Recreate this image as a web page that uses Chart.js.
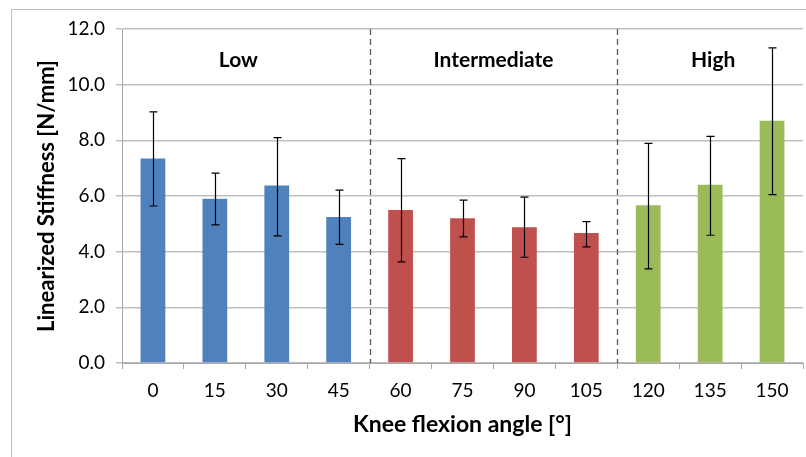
<!DOCTYPE html>
<html>
<head>
<meta charset="utf-8">
<script src="https://cdn.jsdelivr.net/npm/chart.js@4/dist/chart.umd.min.js"></script>
<style>
  html, body { margin: 0; padding: 0; background: #fff; }
  #wrap { width: 806px; height: 457px; position: relative; }
</style>
</head>
<body>
<div id="wrap"><canvas id="chart" width="806" height="457"></canvas></div>
<script>
// knee flexion angles (x categories)
const angles = ['0', '15', '30', '45', '60', '75', '90', '105', '120', '135', '150'];
// mean linearized stiffness [N/mm]
const stiffness = [7.35, 5.90, 6.38, 5.25, 5.50, 5.20, 4.88, 4.67, 5.67, 6.40, 8.70];
// error bar ends
const errHigh = [9.02, 6.82, 8.10, 6.21, 7.34, 5.85, 5.96, 5.08, 7.89, 8.14, 11.32];
const errLow  = [5.64, 4.96, 4.57, 4.26, 3.63, 4.53, 3.80, 4.17, 3.38, 4.59, 6.05];
const yTicks = [0, 2, 4, 6, 8, 10, 12];

const groupNames = ['Low', 'Intermediate', 'High'];
const groupCenters = [1.38, 5.5, 9.05];
const groupSplits = [3.5, 7.5];

const barColors = angles.map((a, i) => i < 4 ? '#4F81BD' : (i < 8 ? '#C0504D' : '#9BBB59'));

const FONT = 'Lato, "Open Sans", sans-serif';

const frame = {
  id: 'frame',
  beforeDraw(chart) {
    const ctx = chart.ctx;
    ctx.save();
    ctx.strokeStyle = '#bfbfbf';
    ctx.lineWidth = 1;
    ctx.strokeRect(11.5, 9.5, 820, 460);
    ctx.restore();
  }
};

const extras = {
  id: 'extras',
  afterDatasetsDraw(chart) {
    const ctx = chart.ctx;
    const x = chart.scales.x, y = chart.scales.y;
    const area = chart.chartArea;
    const half = (x.getPixelForValue(1) - x.getPixelForValue(0)) / 2;
    ctx.save();
    // dashed group separators
    ctx.strokeStyle = '#595959';
    ctx.lineWidth = 1.3;
    ctx.setLineDash([6, 4]);
    groupSplits.forEach(s => {
      const px = Math.round(x.getPixelForValue(Math.floor(s)) + half) + 0.5;
      ctx.beginPath();
      ctx.moveTo(px, area.top);
      ctx.lineTo(px, area.bottom);
      ctx.stroke();
    });
    ctx.setLineDash([]);
    // error bars
    ctx.strokeStyle = '#000';
    ctx.lineWidth = 1.2;
    chart.getDatasetMeta(0).data.forEach((bar, i) => {
      const bx = Math.round(bar.x) + 0.5;
      const yh = y.getPixelForValue(errHigh[i]);
      const yl = y.getPixelForValue(errLow[i]);
      ctx.beginPath();
      ctx.moveTo(bx, yh); ctx.lineTo(bx, yl);
      ctx.moveTo(bx - 4, yh); ctx.lineTo(bx + 4, yh);
      ctx.moveTo(bx - 4, yl); ctx.lineTo(bx + 4, yl);
      ctx.stroke();
    });
    // group labels
    ctx.fillStyle = '#000';
    ctx.font = 'bold 21px ' + FONT;
    ctx.textAlign = 'center';
    ctx.textBaseline = 'middle';
    groupNames.forEach((g, i) => {
      const c = groupCenters[i];
      const px = x.getPixelForValue(Math.floor(c)) + (c - Math.floor(c)) * half * 2;
      ctx.fillText(g, px, area.top + 31);
    });
    ctx.restore();
  }
};

new Chart(document.getElementById('chart'), {
  type: 'bar',
  data: {
    labels: angles,
    datasets: [{
      data: stiffness,
      backgroundColor: barColors,
      barPercentage: 0.4,
      categoryPercentage: 1.0
    }]
  },
  options: {
    responsive: false,
    animation: false,
    layout: { padding: { top: 29, right: 3, left: 0, bottom: 0 } },
    plugins: { legend: { display: false }, tooltip: { enabled: false } },
    scales: {
      x: {
        afterFit(s) { s.height = 94; },
        grid: { offset: true, drawOnChartArea: false, color: '#a6a6a6', tickLength: 6 },
        border: { color: '#a6a6a6' },
        ticks: { color: '#000', font: { family: FONT, size: 19 }, padding: 10 },
        title: { display: true, text: 'Knee flexion angle [°]', color: '#000',
                 font: { family: FONT, size: 23, weight: 'bold' }, padding: { bottom: 19 } }
      },
      y: {
        min: 0, max: 12,
        afterFit(s) { s.width = 122; },
        afterBuildTicks(s) { s.ticks = yTicks.map(v => ({ value: v })); },
        grid: { color: '#bfbfbf', lineWidth: 1.5, tickLength: 6 },
        border: { color: '#a6a6a6' },
        ticks: { color: '#000', font: { family: FONT, size: 19 }, padding: 11,
                 callback: v => v.toFixed(1) },
        title: { display: true, text: 'Linearized Stiffness [N/mm]', color: '#000',
                 font: { family: FONT, size: 22, weight: 'bold' }, padding: { top: 34 } }
      }
    }
  },
  plugins: [frame, extras]
});
</script>
</body>
</html>
